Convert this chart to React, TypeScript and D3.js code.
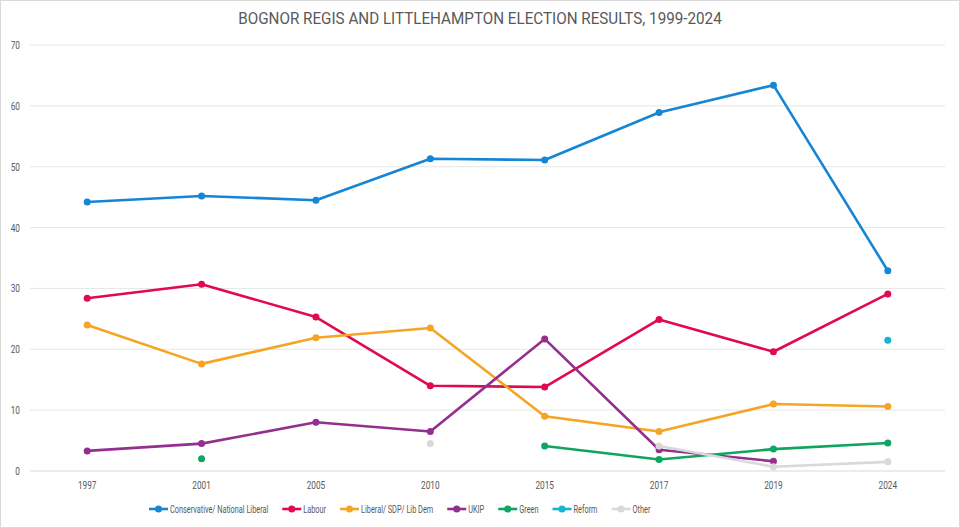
import { useRef, useEffect } from 'react';
import * as d3 from 'd3';

const years = ['1997', '2001', '2005', '2010', '2015', '2017', '2019', '2024'];

const conservative = [44.2, 45.2, 44.5, 51.3, 51.1, 58.9, 63.4, 32.9];
const labour = [28.4, 30.7, 25.3, 14.0, 13.8, 24.9, 19.6, 29.1];
const libDem = [24.0, 17.6, 21.9, 23.5, 9.0, 6.5, 11.0, 10.6];
const ukip = [3.3, 4.5, 8.0, 6.5, 21.7, 3.5, 1.6, null];
const green = [null, 2.0, null, null, 4.1, 1.9, 3.6, 4.6];
const reform = [null, null, null, null, null, null, null, 21.5];
const other = [null, null, null, 4.5, null, 4.1, 0.7, 1.5];

const seriesNames = [
  'Conservative/ National Liberal',
  'Labour',
  'Liberal/ SDP/ Lib  Dem',
  'UKIP',
  'Green',
  'Reform',
  'Other',
];
const seriesValues = [conservative, labour, libDem, ukip, green, reform, other];
const seriesColors = ['#1585d6', '#e1094f', '#f5a523', '#942f90', '#10a462', '#17b3d0', '#d9d9dd'];

const yTicks = [0, 10, 20, 30, 40, 50, 60, 70];

export default function App() {
  const svgRef = useRef<SVGSVGElement | null>(null);

  useEffect(() => {
    const width = 960;
    const height = 528;
    const font = 'Roboto, "Liberation Sans", sans-serif';
    const textColor = '#595959';
    const narrow = 0.72; // squeeze Roboto towards the narrow font of the original

    const svg = d3.select(svgRef.current);
    svg.selectAll('*').remove();
    svg.attr('width', width).attr('height', height);

    svg.append('rect')
      .attr('x', 0.5).attr('y', 0.5)
      .attr('width', width - 1).attr('height', height - 1)
      .attr('fill', '#fff')
      .attr('stroke', '#d9d9d9');

    // title
    svg.append('text')
      .attr('transform', `translate(480,24) scale(0.895,1)`)
      .attr('text-anchor', 'middle')
      .style('font-family', font)
      .style('font-size', '17px')
      .attr('fill', textColor)
      .text('BOGNOR REGIS AND LITTLEHAMPTON ELECTION RESULTS, 1999-2024');

    const xScale = d3.scalePoint<string>()
      .domain(years)
      .range([30, 945])
      .padding(0.5);

    const yScale = d3.scaleLinear()
      .domain([0, 70])
      .range([471, 45]);

    // gridlines
    svg.append('g')
      .selectAll('line')
      .data(yTicks)
      .join('line')
      .attr('x1', 30)
      .attr('x2', 945)
      .attr('y1', d => yScale(d))
      .attr('y2', d => yScale(d))
      .attr('stroke', d => (d === 0 ? '#d9d9d9' : '#e6e6e6'))
      .attr('stroke-width', 1);

    // y tick labels
    svg.append('g')
      .selectAll('text')
      .data(yTicks)
      .join('text')
      .attr('transform', d => `translate(20,${yScale(d)}) scale(${narrow},1)`)
      .attr('dy', '0.35em')
      .attr('text-anchor', 'end')
      .style('font-family', font)
      .style('font-size', '11.5px')
      .attr('fill', textColor)
      .text(d => d);

    // x tick labels
    svg.append('g')
      .selectAll('text')
      .data(years)
      .join('text')
      .attr('transform', d => `translate(${xScale(d) ?? 0},489) scale(${narrow},1)`)
      .attr('text-anchor', 'middle')
      .style('font-family', font)
      .style('font-size', '11.5px')
      .attr('fill', textColor)
      .text(d => d);

    const line = d3.line<number | null>()
      .defined(d => d !== null)
      .x((_, i) => xScale(years[i]) ?? 0)
      .y(d => yScale(d as number));

    seriesValues.forEach((vals, s) => {
      const color = seriesColors[s];
      svg.append('path')
        .datum(vals)
        .attr('d', line)
        .attr('fill', 'none')
        .attr('stroke', color)
        .attr('stroke-width', 2.6)
        .attr('stroke-linejoin', 'round');
      svg.append('g')
        .selectAll('circle')
        .data(vals.map((v, i) => ({ v, i })).filter(d => d.v !== null))
        .join('circle')
        .attr('cx', d => xScale(years[d.i]) ?? 0)
        .attr('cy', d => yScale(d.v as number))
        .attr('r', 3.5)
        .attr('fill', color);
    });

    // legend
    const legend = svg.append('g');
    let lx = 149;
    const ly = 509;
    seriesNames.forEach((name, s) => {
      const color = seriesColors[s];
      legend.append('line')
        .attr('x1', lx).attr('x2', lx + 19)
        .attr('y1', ly).attr('y2', ly)
        .attr('stroke', color)
        .attr('stroke-width', 2.6);
      legend.append('circle')
        .attr('cx', lx + 9.5).attr('cy', ly)
        .attr('r', 3.5)
        .attr('fill', color);
      const t = legend.append('text')
        .attr('transform', `translate(${lx + 21},${ly}) scale(0.7,1)`)
        .attr('dy', '0.35em')
        .style('font-family', font)
        .style('font-size', '10.5px')
        .attr('fill', textColor)
        .text(name);
      const w = (t.node() as SVGTextElement).getComputedTextLength() * 0.7;
      lx += 21 + w + 14;
    });
  }, []);

  return (
    <svg
      ref={svgRef}
      style={{ position: 'absolute', left: 0, top: 0, display: 'block' }}
    />
  );
}
